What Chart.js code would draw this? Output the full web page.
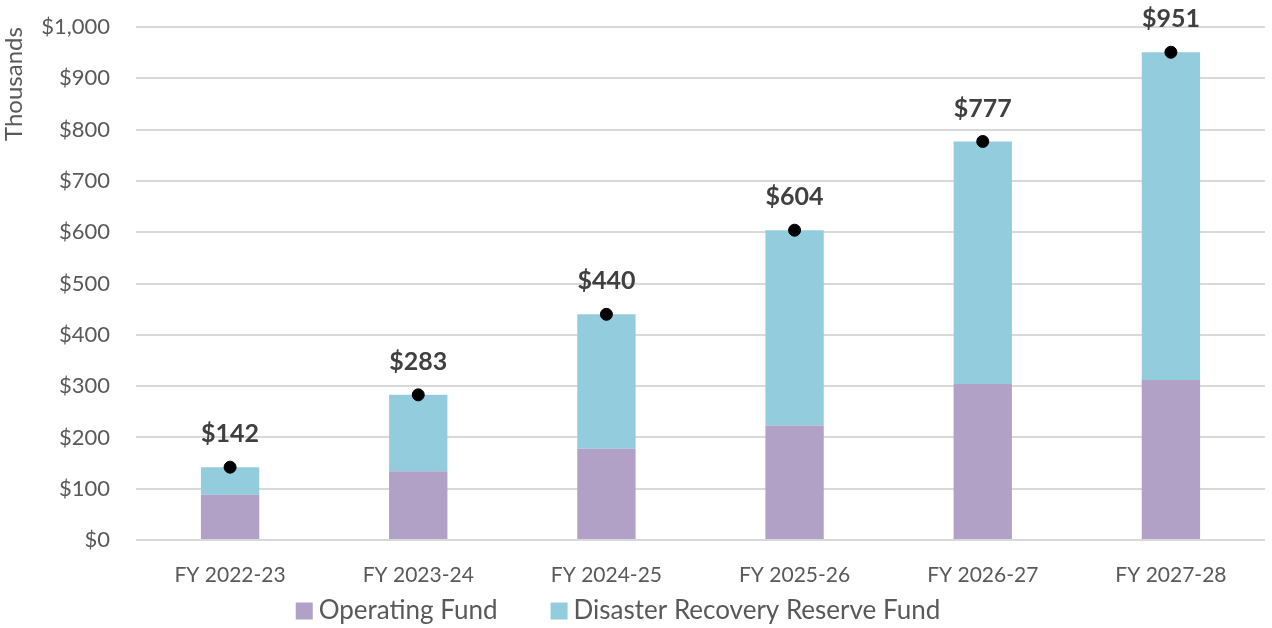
<!DOCTYPE html>
<html>
<head>
<meta charset="utf-8">
<script src="https://cdn.jsdelivr.net/npm/chart.js@4/dist/chart.umd.min.js"></script>
<style>
  html, body { margin: 0; padding: 0; background: #fff; overflow: hidden; }
  #wrap { width: 1272px; height: 628px; position: relative; }
  canvas { display: block; }
</style>
</head>
<body>
<div id="wrap"><canvas id="chart"></canvas></div>
<script>
const categories = ['FY 2022-23', 'FY 2023-24', 'FY 2024-25', 'FY 2025-26', 'FY 2026-27', 'FY 2027-28']
const operatingFund = [88, 134, 178, 223, 304, 312]
const totals = [142, 283, 440, 604, 777, 951]
const disasterReserve = [54, 149, 262, 381, 473, 639]

const fontFamily = 'Lato, "Open Sans", sans-serif'
const textGray = '#595959'

// bold totals above the black dots
const totalLabels = {
  id: 'totalLabels',
  afterDatasetsDraw(chart) {
    const ctx = chart.ctx
    const meta = chart.getDatasetMeta(2)
    ctx.save()
    ctx.font = 'bold 25px ' + fontFamily
    ctx.fillStyle = '#404040'
    ctx.textAlign = 'center'
    ctx.textBaseline = 'middle'
    meta.data.forEach((pt, i) => {
      ctx.fillText('$' + totals[i].toLocaleString('en-US'), pt.x, pt.y - 33)
    })
    ctx.restore()
  }
}

// Excel-style legend: small square, short gap, wide spacing between items
const bottomLegend = {
  id: 'bottomLegend',
  afterDraw(chart) {
    const ctx = chart.ctx
    const items = chart.data.datasets.slice(0, 2)
    const box = 17, gapText = 6, gapItem = 53
    ctx.save()
    ctx.font = '26px ' + fontFamily
    ctx.textBaseline = 'middle'
    ctx.textAlign = 'left'
    const widths = items.map(d => box + gapText + ctx.measureText(d.label).width)
    const total = widths.reduce((a, b) => a + b, 0) + gapItem * (items.length - 1)
    let x = chart.width / 2 - 18 - total / 2
    const y = chart.height - 17
    items.forEach((d, i) => {
      ctx.fillStyle = d.backgroundColor
      ctx.fillRect(x, y - box / 2, box, box)
      ctx.fillStyle = textGray
      ctx.fillText(d.label, x + box + gapText, y)
      x += widths[i] + gapItem
    })
    ctx.restore()
  }
}

new Chart(document.getElementById('chart'), {
  type: 'bar',
  data: {
    labels: categories,
    datasets: [
      {
        label: 'Operating Fund',
        data: operatingFund,
        backgroundColor: '#b1a1c7',
        stack: 'funds',
        barPercentage: 0.62,
        categoryPercentage: 0.5,
        order: 2
      },
      {
        label: 'Disaster Recovery Reserve Fund',
        data: disasterReserve,
        backgroundColor: '#93cddd',
        stack: 'funds',
        barPercentage: 0.62,
        categoryPercentage: 0.5,
        order: 2
      },
      {
        type: 'line',
        label: 'Total',
        data: totals,
        showLine: false,
        pointRadius: 6,
        pointBackgroundColor: '#000',
        pointBorderColor: '#000',
        stack: 'total',
        order: 1
      }
    ]
  },
  options: {
    responsive: true,
    maintainAspectRatio: false,
    animation: false,
    layout: { padding: { top: 0, right: -9, left: 0, bottom: 32 } },
    plugins: {
      legend: { display: false },
      tooltip: { enabled: false }
    },
    scales: {
      x: {
        stacked: true,
        grid: { display: false },
        border: { display: false },
        ticks: { font: { size: 21, family: fontFamily }, color: textGray, padding: 15 },
        afterFit: scale => {
          scale.height = 56
          scale.paddingLeft = 0
          scale.paddingRight = 0
        }
      },
      y: {
        stacked: true,
        min: 0,
        max: 1000,
        ticks: {
          stepSize: 100,
          font: { size: 22, family: fontFamily, lineHeight: 0.1 },
          color: textGray,
          padding: 26,
          callback: v => '$' + v.toLocaleString('en-US')
        },
        grid: { color: '#d9d9d9', lineWidth: 2, drawTicks: false },
        border: { display: false },
        title: {
          display: true,
          text: 'Thousands',
          align: 'end',
          font: { size: 24, family: fontFamily },
          color: textGray,
          padding: 0
        },
        afterFit: scale => { scale.width = 136 }
      }
    }
  },
  plugins: [totalLabels, bottomLegend]
})
</script>
</body>
</html>
